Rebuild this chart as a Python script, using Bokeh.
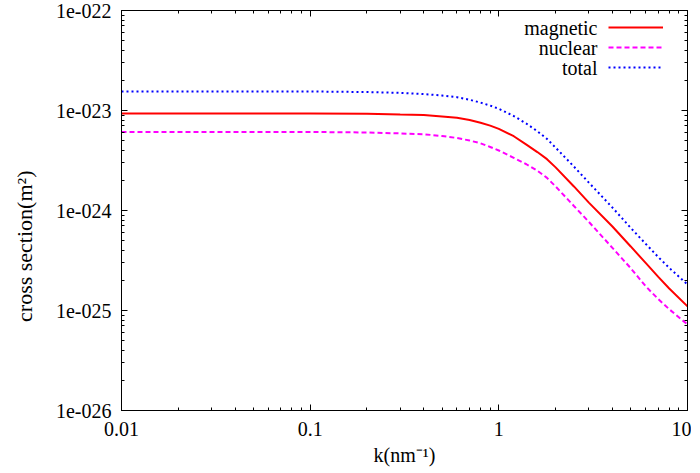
import math
from bokeh.plotting import figure
from bokeh.models import LogAxis, FixedTicker, Label, Legend, LegendItem
from bokeh.embed import file_html
from bokeh.resources import INLINE

# ---- data ----
k = [0.01, 0.1, 0.2, 0.3, 0.4, 0.5, 0.6, 0.7, 0.8, 0.9, 1.0, 1.2, 1.4, 1.6, 1.8,
     2.0, 2.5, 3.0, 4.0, 5.0, 6.0, 7.0, 8.0, 10.0]
magnetic = [9.33e-24, 9.31e-24, 9.27e-24, 9.1e-24, 9.0e-24, 8.73e-24, 8.45e-24, 8.05e-24,
            7.55e-24, 7.06e-24, 6.55e-24, 5.53e-24, 4.55e-24, 3.84e-24, 3.26e-24,
            2.70e-24, 1.74e-24, 1.2e-24, 6.92e-25, 4.37e-25, 2.99e-25, 2.17e-25,
            1.66e-25, 1.10e-25]
nuclear = [6.11e-24, 6.10e-24, 6.03e-24, 5.9e-24, 5.79e-24, 5.56e-24, 5.31e-24, 5.01e-24,
           4.70e-24, 4.32e-24, 3.98e-24, 3.36e-24, 2.90e-24, 2.50e-24, 2.12e-24,
           1.74e-24, 1.11e-24, 7.7e-25, 4.23e-25, 2.65e-25, 1.75e-25, 1.30e-25,
           1.03e-25, 7.24e-26]
total = [1.55e-23, 1.55e-23, 1.53e-23, 1.50e-23, 1.46e-23, 1.41e-23, 1.36e-23, 1.28e-23,
         1.20e-23, 1.12e-23, 1.04e-23, 8.8e-24, 7.4e-24, 6.2e-24, 5.2e-24,
         4.25e-24, 2.75e-24, 1.9e-24, 1.07e-24, 6.7e-25, 4.65e-25, 3.42e-25,
         2.67e-25, 1.82e-25]

series_names = ["magnetic", "nuclear", "total"]
x_ticks = [0.01, 0.1, 1.0, 10.0]
x_tick_labels = ["0.01", "0.1", "1", "10"]
y_ticks = [1e-26, 1e-25, 1e-24, 1e-23, 1e-22]
y_tick_labels = ["1e-026", "1e-025", "1e-024", "1e-023", "1e-022"]
x_minor = [m * 10.0 ** e for e in (-2, -1, 0) for m in range(2, 10)]
y_minor = [m * 10.0 ** e for e in (-26, -25, -24, -23) for m in range(2, 10)]

FONT = "'Liberation Serif', 'Times New Roman', serif"
FS = "20px"

p = figure(x_axis_type="log", y_axis_type="log",
           x_range=(0.01, 10), y_range=(1e-26, 1e-22),
           frame_width=566, frame_height=400,
           min_border_left=121, min_border_right=4,
           min_border_top=10, min_border_bottom=50,
           output_backend="svg", toolbar_location=None)
p.grid.visible = False
p.outline_line_color = "black"
p.outline_line_width = 1
p.background_fill_color = "white"
p.border_fill_color = "white"

bottom = p.below[0]
left = p.left[0]

r1 = p.line(k, magnetic, line_color="#ff0000", line_width=2)
r2 = p.line(k, nuclear, line_color="#ff00ff", line_width=2, line_dash="5 3")
r3 = p.line(k, total, line_color="#0000ff", line_width=2, line_dash="2 3")

xt = FixedTicker(ticks=x_ticks, minor_ticks=x_minor)
yt = FixedTicker(ticks=y_ticks, minor_ticks=y_minor)

top = LogAxis(ticker=xt)
right = LogAxis(ticker=yt)
p.add_layout(top, "above")
p.add_layout(right, "right")
bottom.ticker = xt
left.ticker = yt

for ax in [bottom, left, top, right]:
    ax.axis_line_color = "black"
    ax.major_tick_line_color = "black"
    ax.minor_tick_line_color = "black"
    ax.major_tick_in = 6
    ax.major_tick_out = 0
    ax.minor_tick_in = 3
    ax.minor_tick_out = 0
    ax.major_label_text_font = FONT
    ax.major_label_text_font_size = FS
    ax.major_label_text_color = "black"

for ax in [top, right]:
    ax.major_label_text_color = None
    ax.major_label_text_font_size = "1px"
    ax.major_label_standoff = 0

bottom.major_label_overrides = dict(zip(x_ticks, x_tick_labels))
left.major_label_overrides = dict(zip(y_ticks, y_tick_labels))
bottom.major_label_standoff = 11
left.major_label_standoff = 10

bottom.axis_label = "k(nm\u207b\u00b9)"
bottom.axis_label_standoff = 5
bottom.axis_label_text_font_size = FS
# trailing no-break spaces shift the rotated label down, as in the reference
left.axis_label = "cross section(m\u00b2)" + "\u00a0" * 13
left.axis_label_standoff = 16
left.axis_label_text_font_size = "22px"
for ax in [bottom, left]:
    ax.axis_label_text_font = FONT
    ax.axis_label_text_font_style = "normal"
    ax.axis_label_text_color = "black"

# legend: line samples from a Legend, names as right-aligned labels (gnuplot style)
legend = Legend(items=[LegendItem(label=n, renderers=[r]) for n, r in zip(series_names, [r1, r2, r3])],
                location=(487, 333), glyph_width=55, glyph_height=20, label_height=20,
                label_width=1, label_standoff=0,
                label_text_font_size="1px", label_text_color=None,
                spacing=0, padding=0, margin=0,
                border_line_color=None, background_fill_alpha=0)
p.add_layout(legend)

for i, n in enumerate(series_names):
    p.add_layout(Label(x=476, y=383 - 20 * i, x_units="screen", y_units="screen",
                       text=n, text_align="right", text_baseline="middle",
                       text_font=FONT, text_font_size=FS, text_color="black"))

open("out.html", "w").write(file_html(p, INLINE))
